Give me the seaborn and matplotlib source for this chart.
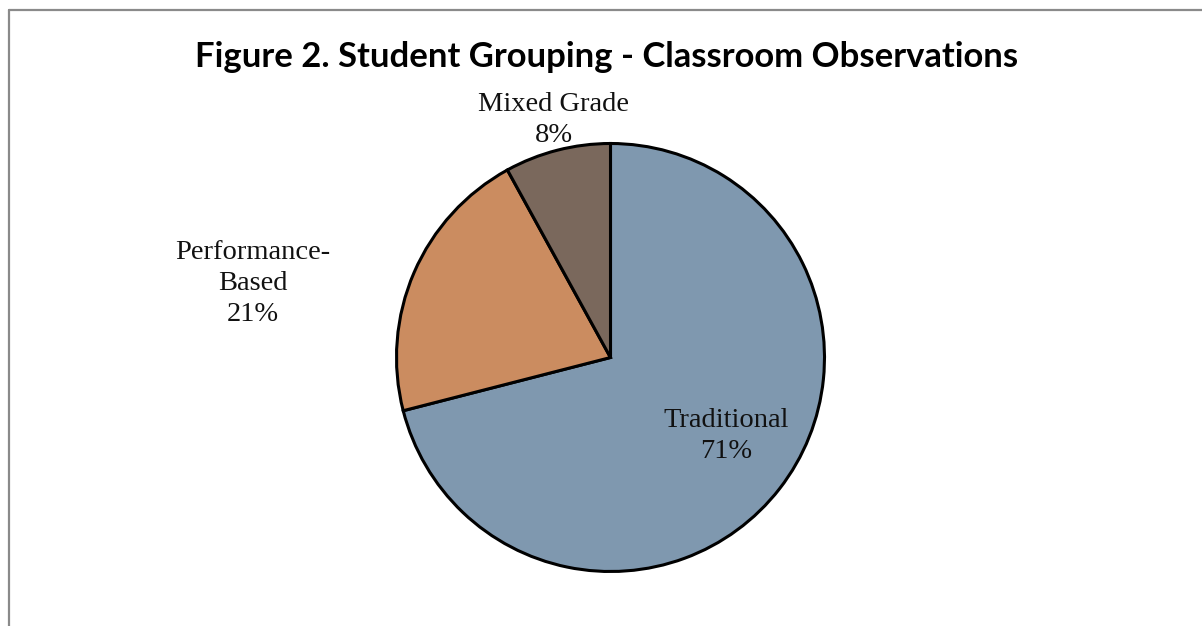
import matplotlib
matplotlib.use("Agg")
import matplotlib.pyplot as plt
from matplotlib.lines import Line2D
import seaborn as sns

# ---- data ----
categories = ["Traditional", "Performance-\nBased", "Mixed Grade"]
percents = [71, 21, 8]
title = "Figure 2. Student Grouping - Classroom Observations"

# ---- style ----
colors = ["#7F98AF", "#CB8C60", "#7A685C"]
label_xy = [(0.542, -0.365), (-1.673, 0.347), (-0.266, 1.108)]

sns.set_theme(style="white")
plt.rcParams["font.family"] = ["Liberation Serif", "DejaVu Serif"]

W, H = 1202, 626
fig = plt.figure(figsize=(W / 100, H / 100), dpi=100)
fig.patch.set_facecolor("white")

cx, cy, r = 610.5, 357.5, 214
ax = fig.add_axes([(cx - r) / W, (H - cy - r) / H, 2 * r / W, 2 * r / H])

wedges, texts = ax.pie(
    percents,
    colors=colors,
    startangle=90,
    counterclock=False,
    labels=[f"{c}\n{p}%" for c, p in zip(categories, percents)],
    labeldistance=1.1,
    wedgeprops=dict(edgecolor="black", linewidth=2.2),
    textprops=dict(fontsize=20.5, color="#111111", ha="center", va="center",
                   linespacing=1.32),
)
for t, xy in zip(texts, label_xy):
    t.set_position(xy)
    t.set_ha("center")
    t.set_va("center")
ax.set_xlim(-1, 1)
ax.set_ylim(-1, 1)
ax.set_aspect("equal")
ax.axis("off")

fig.text(607 / W, 1 - 57 / H, title, ha="center", va="center",
         fontsize=24.9, fontweight="bold", family=["Lato", "DejaVu Sans"],
         color="black")

# outer chart-area border (left and top visible)
bc = "#8A8A8A"
fig.add_artist(Line2D([9 / W, 9 / W], [0, 1 - 10 / H], transform=fig.transFigure,
                      color=bc, linewidth=1.6))
fig.add_artist(Line2D([9 / W, 1], [1 - 10 / H, 1 - 10 / H], transform=fig.transFigure,
                      color=bc, linewidth=1.6))

fig.savefig("out.png", dpi=100, facecolor="white")
